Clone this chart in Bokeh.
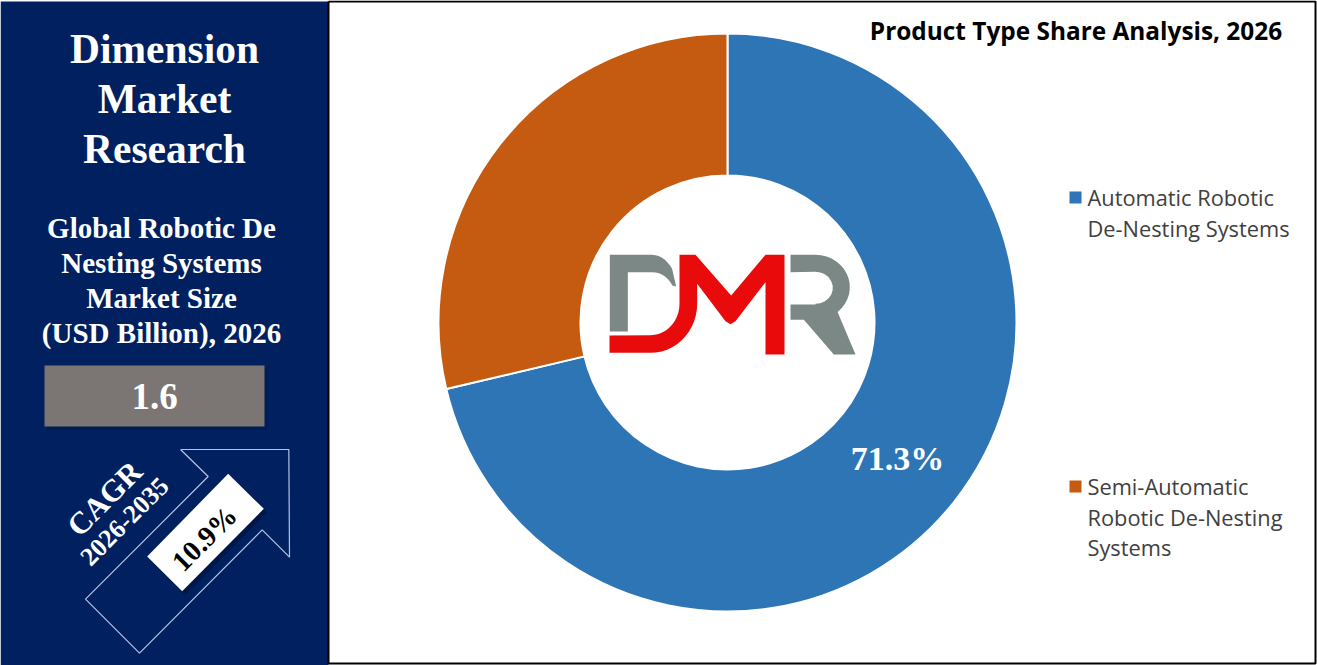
import numpy as np
from bokeh.plotting import figure
from bokeh.models import Range1d
from bokeh.core.properties import value
from bokeh.embed import file_html
from bokeh.resources import INLINE

categories = ["Automatic Robotic De-Nesting Systems", "Semi-Automatic Robotic De-Nesting Systems"]
shares = [71.3, 28.7]
colors = ["#2e75b6", "#c55a11"]
legend_lines = [["Automatic Robotic", "De-Nesting Systems"],
                ["Semi-Automatic", "Robotic De-Nesting", "Systems"]]
share_label = "71.3%"
title = "Product Type Share Analysis, 2026"
brand_lines = ["Dimension", "Market", "Research"]
subtitle_lines = ["Global Robotic De", "Nesting Systems", "Market Size", "(USD Billion), 2026"]
market_size = "1.6"
cagr = "10.9%"
cagr_label = "CAGR"
cagr_period = "2026-2035"

NAVY = "#00205f"
SERIF = value("Liberation Serif")
SANS = value("Open Sans")

# Ranges are in reference-image pixels.
p = figure(width=1317, height=665, output_backend="svg", toolbar_location=None,
           x_range=Range1d(0, 1317), y_range=Range1d(665, 0), min_border=0,
           background_fill_color="white", border_fill_color="white", outline_line_color=None)
p.axis.visible = False
p.grid.visible = False


def txt(x, y, s, size, color="white", font=SERIF, style="bold", align="center", angle=0.0):
    p.text([x], [y], text=[s], text_font=font, text_font_size=f"{size}px", text_font_style=style,
           text_color=color, text_align=align, text_baseline="middle", angle=np.radians(angle))


# frame and navy panel
p.quad(left=[0], right=[328], top=[1], bottom=[665], fill_color=NAVY, line_color=None)
p.line([328, 1315, 1315, 328, 328], [1, 1, 663, 663, 1], line_color="black", line_width=2)

# donut, clockwise from twelve o'clock
fractions = np.cumsum([0] + shares) / sum(shares)
starts = np.pi / 2 - 2 * np.pi * fractions[:-1]
ends = np.pi / 2 - 2 * np.pi * fractions[1:]
for a0, a1, c in zip(starts, ends, colors):
    p.annular_wedge(x=[727], y=[322], inner_radius=147, outer_radius=289,
                    start_angle=[a0], end_angle=[a1], direction="clock",
                    fill_color=c, line_color="white", line_width=2)
txt(897, 458, share_label, 34)


# DMR logo
def arc(cx, cy, rx, ry, a0, a1, n=14):
    t = np.radians(np.linspace(a0, a1, n))
    return [(cx + rx * np.cos(v), cy + ry * np.sin(v)) for v in t]


def logo(points, color):
    xs = [580 + a / 3 for a, _ in points]
    ys = [230 + b / 3 for _, b in points]
    p.patch(xs, ys, fill_color=color, line_color=None)


GREY = "#7c8886"
RED = "#e90b0b"
logo([(88, 73), (215, 73)] + arc(215, 190, 78, 117, -90, -40, 8) +
     [(287, 168)] + arc(215, 205, 70, 80, -30, -90, 8) + [(142, 125), (142, 303), (88, 303)], GREY)
logo([(87, 315), (210, 314)] + arc(210, 220, 87, 94, 90, 0, 12) +
     [(297, 73), (345, 73), (452, 195), (555, 73), (612, 73), (612, 372), (555, 372), (555, 155),
      (465, 272), (450, 281), (435, 272), (350, 160)] +
     arc(210, 220, 140, 147, 0, 90, 14) + [(87, 367)], RED)
logo([(630, 73), (705, 73)] + arc(705, 170, 103, 97, -90, 50, 16) +
     [(825, 372), (760, 372), (670, 268), (630, 268), (630, 222), (705, 222)] +
     arc(705, 172, 52, 48, 90, -90, 12) + [(630, 125)], GREY)

# title and legend
txt(1075.5, 30, title, 24.4, color="black", font=SANS)
legend_tops = [197, 486]
for lines, top, c in zip(legend_lines, legend_tops, colors):
    p.quad(left=[1069], right=[1081], top=[top - 6], bottom=[top + 6], fill_color=c, line_color=None)
    for i, line in enumerate(lines):
        txt(1087, top + i * 30.5, line, 21.8, color="#404040", font=SANS, style="normal", align="left")

# left panel texts
for line, y in zip(brand_lines, [48.5, 98.5, 148.5]):
    txt(164, y, line, 41.5)
for line, y in zip(subtitle_lines, [227, 262, 297, 332]):
    txt(161, y, line, 29)

# market size box
p.quad(left=[47], right=[267], top=[368], bottom=[429], fill_color="#001640", fill_alpha=0.35, line_color=None)
p.quad(left=[44], right=[264], top=[365], bottom=[426], fill_color="#7b7674", line_color=None)
txt(154, 396, market_size, 37)

# CAGR arrow
arrow = [(540, 297), (865, 297), (867, 620), (785, 538), (417, 908), (255, 746), (623, 378), (540, 297)]
p.line([a / 3 for a, _ in arrow], [350 + b / 3 for _, b in arrow], line_color="#b4c4e4", line_width=1.2)
box = [(683, 370), (790, 475), (545, 722), (440, 618)]
p.patch([a / 3 + 3 for a, _ in box], [350 + b / 3 + 4 for _, b in box], fill_color="#00123a", fill_alpha=0.6, line_color=None)
p.patch([a / 3 for a, _ in box], [350 + b / 3 for _, b in box], fill_color="white", line_color=None)
txt(204, 538, cagr, 28.5, color="black", angle=45)
txt(104, 498, cagr_label, 31, angle=45)
txt(124, 521, cagr_period, 26, angle=45)

open("out.html", "w").write(file_html(p, INLINE))
